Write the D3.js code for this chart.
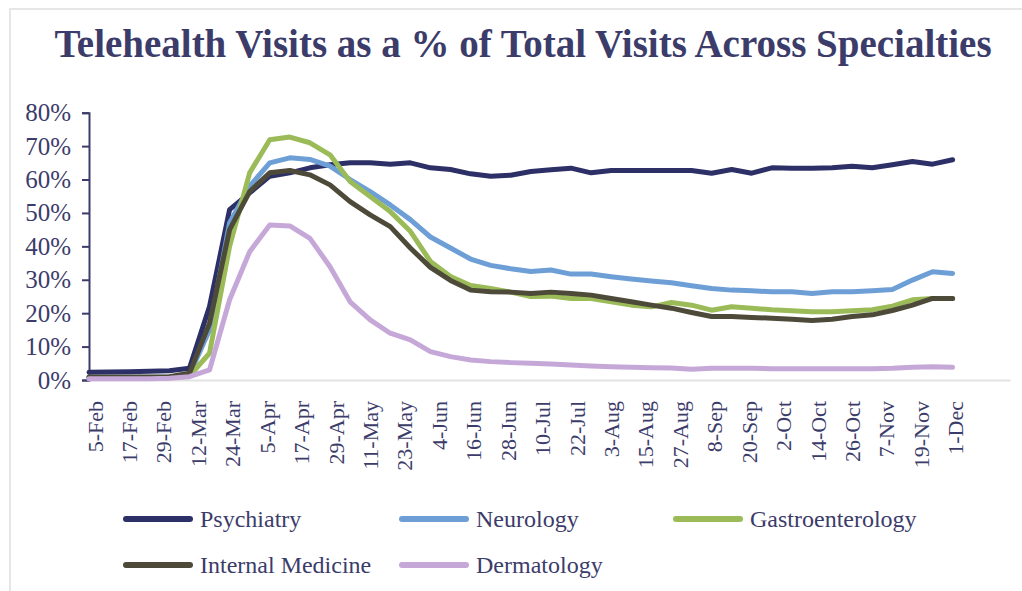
<!DOCTYPE html>
<html lang="en">
<head>
    <meta charset="utf-8">
    <title>Telehealth Visits</title>
    <style>
        body {
            margin: 0;
            background: #fff;
        }
        text {
            font-family: "Liberation Serif", "Times New Roman", serif;
            fill: #3c3c6a;
        }
    </style>
</head>
<body>
<svg class="chart"></svg>
<script src="https://cdn.jsdelivr.net/npm/d3@7"></script>
<script>

  const chartWidth = 1022;
  const chartHeight = 591;

  // weekly data points (week starting)
  const weeks = [
    "2020-02-03", "2020-02-10", "2020-02-17", "2020-02-24",
    "2020-03-02", "2020-03-09", "2020-03-16", "2020-03-23", "2020-03-30",
    "2020-04-06", "2020-04-13", "2020-04-20", "2020-04-27",
    "2020-05-04", "2020-05-11", "2020-05-18", "2020-05-25",
    "2020-06-01", "2020-06-08", "2020-06-15", "2020-06-22", "2020-06-29",
    "2020-07-06", "2020-07-13", "2020-07-20", "2020-07-27",
    "2020-08-03", "2020-08-10", "2020-08-17", "2020-08-24", "2020-08-31",
    "2020-09-07", "2020-09-14", "2020-09-21", "2020-09-28",
    "2020-10-05", "2020-10-12", "2020-10-19", "2020-10-26",
    "2020-11-02", "2020-11-09", "2020-11-16", "2020-11-23", "2020-11-30"
  ];

  const psychiatry = [2.3, 2.4, 2.5, 2.6, 2.8, 3.5, 22, 51, 56, 61, 62, 63.5, 64.4,
    65, 65, 64.6, 65, 63.5, 63, 61.7, 61, 61.3, 62.4, 62.9, 63.4, 62, 62.7, 62.7,
    62.7, 62.7, 62.7, 61.9, 63, 61.9, 63.5, 63.4, 63.4, 63.5, 64, 63.5, 64.4, 65.4, 64.6, 65.9];

  const neurology = [0.8, 0.8, 0.8, 0.8, 0.9, 1.5, 15, 47, 58, 65, 66.5, 66, 64,
    60, 56.4, 52.4, 48, 42.8, 39.5, 36.2, 34.3, 33.3, 32.5, 32.9, 31.7, 31.7, 30.9, 30.2,
    29.6, 29.1, 28.2, 27.4, 26.9, 26.7, 26.4, 26.4, 25.9, 26.4, 26.4, 26.7, 27.1, 29.9, 32.4, 31.9];

  const gastroenterology = [0.6, 0.6, 0.6, 0.6, 0.7, 1.2, 8, 40, 62, 71.9, 72.7, 71, 67.4,
    59.4, 54.9, 50.4, 44.5, 35.5, 31, 28.3, 27.4, 26.3, 25, 25.1, 24.4, 24.4, 23.4, 22.4,
    21.9, 23.2, 22.4, 20.9, 21.9, 21.5, 21, 20.7, 20.4, 20.4, 20.7, 21, 22.1, 24, 24.4, 24.4];

  const internalMedicine = [0.9, 0.9, 0.9, 0.9, 1.0, 2, 17, 45, 56.4, 62, 62.7, 61.4, 58.4,
    53.4, 49.4, 45.9, 39.5, 33.7, 29.8, 26.9, 26.4, 26.3, 25.9, 26.3, 25.9, 25.4, 24.4, 23.4,
    22.4, 21.5, 20.2, 19, 19, 18.7, 18.5, 18.2, 17.8, 18.2, 19, 19.5, 20.8, 22.4, 24.4, 24.4];

  const dermatology = [0.4, 0.4, 0.4, 0.4, 0.5, 1, 3, 24, 38.4, 46.4, 46.1, 42.4, 33.9,
    23.4, 18, 14, 12, 8.5, 7, 6, 5.5, 5.2, 5, 4.8, 4.5, 4.2, 4, 3.8,
    3.7, 3.6, 3.2, 3.5, 3.5, 3.5, 3.4, 3.4, 3.4, 3.4, 3.4, 3.4, 3.5, 3.8, 4, 3.8];

  const seriesNames = ["Psychiatry", "Neurology", "Gastroenterology", "Internal Medicine", "Dermatology"];
  const seriesColors = ["#2c3066", "#6d9fd6", "#9bbb59", "#4d4a39", "#c5a8d8"];

  const xTickLabels = ["5-Feb", "17-Feb", "29-Feb", "12-Mar", "24-Mar", "5-Apr", "17-Apr",
    "29-Apr", "11-May", "23-May", "4-Jun", "16-Jun", "28-Jun", "10-Jul", "22-Jul", "3-Aug",
    "15-Aug", "27-Aug", "8-Sep", "20-Sep", "2-Oct", "14-Oct", "26-Oct", "7-Nov", "19-Nov", "1-Dec"];

  const yTicks = [0, 0.1, 0.2, 0.3, 0.4, 0.5, 0.6, 0.7, 0.8];

  const parseWeek = d3.timeParse("%Y-%m-%d");
  const parseTick = d3.timeParse("%d-%b-%Y");

  const dates = weeks.map(parseWeek);
  const tickDates = xTickLabels.map(s => parseTick(s + "-2020"));

  const allValues = [psychiatry, neurology, gastroenterology, internalMedicine, dermatology];
  const series = seriesNames.map((name, i) => ({
    name: name,
    color: seriesColors[i],
    values: allValues[i].map((v, j) => ({date: dates[j], value: v / 100}))
  }));

  const svg = d3.select(".chart")
    .attr("width", chartWidth)
    .attr("height", chartHeight);

  // light frame like the pasted picture
  svg.append("rect")
    .attr("x", 10)
    .attr("y", 9)
    .attr("width", 1030)
    .attr("height", 600)
    .style("fill", "none")
    .style("stroke", "#e6e6e6")
    .style("stroke-width", 2);

  svg.append("text")
    .attr("x", 523)
    .attr("y", 57)
    .attr("text-anchor", "middle")
    .style("font-size", "39px")
    .style("font-weight", "bold")
    .text("Telehealth Visits as a % of Total Visits Across Specialties");

  const xScale = d3.scaleTime()
    .domain([parseWeek("2020-02-03"), parseWeek("2020-12-20")])
    .range([89, 1010]);

  const yScale = d3.scaleLinear()
    .domain([0, 0.8])
    .range([380, 112.7]);

  // x axis: grey baseline, rotated labels, no ticks
  const xAxis = d3.axisBottom(xScale)
    .tickValues(tickDates)
    .tickFormat((d, i) => xTickLabels[i])
    .tickSize(0)
    .tickSizeOuter(0);

  const gx = svg.append("g")
    .attr("transform", "translate(0,380)")
    .call(xAxis);

  gx.select(".domain")
    .style("stroke", "#e2e2e2")
    .style("stroke-width", 2);

  gx.selectAll("text")
    .attr("transform", "rotate(-90)")
    .attr("x", -21)
    .attr("y", 0)
    .attr("dy", "0.33em")
    .attr("text-anchor", "end")
    .style("font-size", "22px")
    .style("font-family", "Liberation Serif, serif")
    .style("fill", "#3c3c6a");

  // y axis
  const yAxis = d3.axisLeft(yScale)
    .tickValues(yTicks)
    .tickFormat(d3.format(".0%"))
    .tickSize(7)
    .tickSizeOuter(7)
    .tickPadding(11);

  const gy = svg.append("g")
    .attr("transform", "translate(89,0)")
    .call(yAxis);

  gy.select(".domain")
    .style("stroke", "#3c3c6a")
    .style("stroke-width", 2);
  gy.selectAll(".tick line")
    .style("stroke", "#3c3c6a")
    .style("stroke-width", 2);
  gy.selectAll("text")
    .style("font-size", "25px")
    .style("font-family", "Liberation Serif, serif")
    .style("fill", "#3c3c6a");

  // lines
  const line = d3.line()
    .x(d => xScale(d.date))
    .y(d => yScale(d.value));

  svg.append("g")
    .selectAll("path")
    .data(series)
    .enter()
    .append("path")
    .attr("d", d => line(d.values))
    .style("fill", "none")
    .style("stroke", d => d.color)
    .style("stroke-width", 5)
    .style("stroke-linejoin", "round")
    .style("stroke-linecap", "round");

  // legend, three per row
  const legendColX = [123, 399, 673];
  const legendRowY = [519, 565];

  const legend = svg.append("g")
    .selectAll("g")
    .data(series)
    .enter()
    .append("g")
    .attr("transform", (d, i) => "translate(" + legendColX[i % 3] + "," + legendRowY[Math.floor(i / 3)] + ")");

  legend.append("line")
    .attr("x1", 3)
    .attr("x2", 67)
    .style("stroke", d => d.color)
    .style("stroke-width", 6)
    .style("stroke-linecap", "round");

  legend.append("text")
    .attr("x", 77)
    .attr("y", 8)
    .style("font-size", "24px")
    .text(d => d.name);

</script>
</body>
</html>
